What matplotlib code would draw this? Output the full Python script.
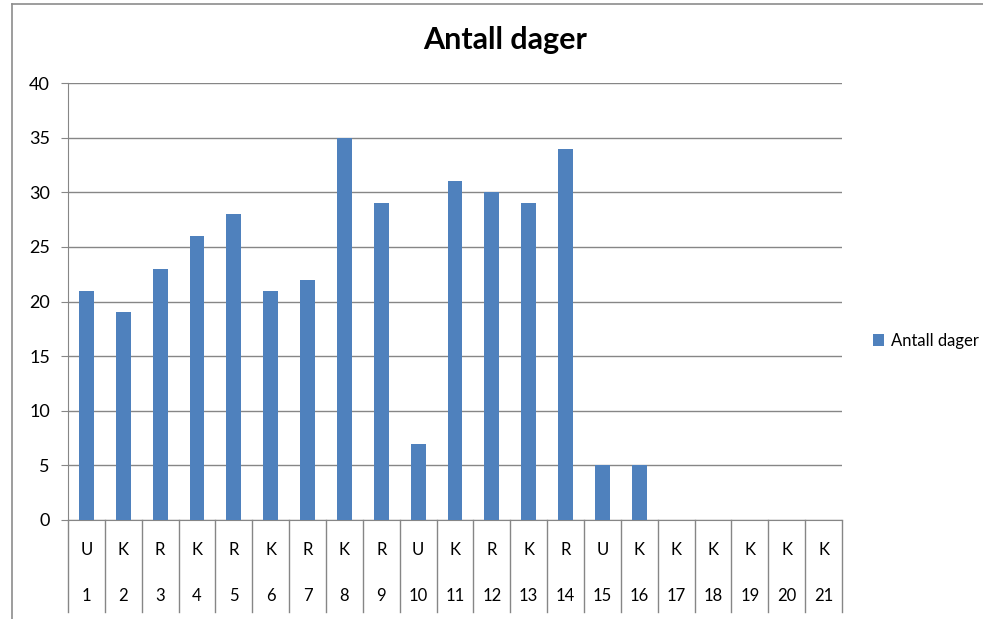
import matplotlib.pyplot as plt
from matplotlib.lines import Line2D
from matplotlib.transforms import blended_transform_factory

plt.rcParams['font.family'] = ['Lato', 'DejaVu Sans']

days = list(range(1, 22))
codes = ['U', 'K', 'R', 'K', 'R', 'K', 'R', 'K', 'R', 'U', 'K',
         'R', 'K', 'R', 'U', 'K', 'K', 'K', 'K', 'K', 'K']
values = [21, 19, 23, 26, 28, 21, 22, 35, 29, 7, 31,
          30, 29, 34, 5, 5, 0, 0, 0, 0, 0]

W, H = 983, 619
fig = plt.figure(figsize=(W / 100, H / 100), dpi=100)
x0, x1, y_top, y_bot = 68, 842, 83, 520
ax = fig.add_axes([x0 / W, 1 - y_bot / H, (x1 - x0) / W, (y_bot - y_top) / H])

grid_c = '#868686'
bar_c = '#4F81BD'

ax.bar(range(len(values)), values, width=0.4, color=bar_c, zorder=3,
       label='Antall dager')
ax.set_xlim(-0.5, len(values) - 0.5)
ax.set_ylim(0, 40)
ax.set_yticks(range(0, 41, 5))
ax.yaxis.grid(True, color=grid_c, linewidth=1)
ax.set_axisbelow(True)
for s in ['top', 'right']:
    ax.spines[s].set_visible(False)
ax.spines['left'].set_color(grid_c)
ax.spines['bottom'].set_color(grid_c)
ax.tick_params(axis='y', length=5, color=grid_c, labelsize=13, pad=8)
ax.set_xticks([])

# two-level category axis
tr = blended_transform_factory(ax.transData, ax.transAxes)
sep_bottom = -(612 - y_bot) / (y_bot - y_top)
for i in range(len(values) + 1):
    ax.plot([i - 0.5, i - 0.5], [0, sep_bottom], color=grid_c, lw=1,
            transform=tr, clip_on=False)
row1 = -(550 - y_bot) / (y_bot - y_top)
row2 = -(596 - y_bot) / (y_bot - y_top)
for i, (c, d) in enumerate(zip(codes, days)):
    ax.text(i, row1, c, transform=tr, ha='center', va='center', fontsize=12)
    ax.text(i, row2, str(d), transform=tr, ha='center', va='center', fontsize=12)

fig.text(505 / W, 1 - 40 / H, 'Antall dager', ha='center', va='center',
         fontsize=22, fontweight='bold')

ax.legend(loc='center left', bbox_to_anchor=((866 - x0) / (x1 - x0), (y_bot - 341) / (y_bot - y_top)),
          frameon=False, fontsize=12, handlelength=0.7, handleheight=0.7,
          handletextpad=0.4, borderaxespad=0)

# outer chart frame
fl, ft = 12 / W, 1 - 4 / H
fig.add_artist(Line2D([fl, fl], [0, ft], color='#8c8c8c', lw=1.2, transform=fig.transFigure))
fig.add_artist(Line2D([fl, 1], [ft, ft], color='#8c8c8c', lw=1.2, transform=fig.transFigure))

fig.savefig('out.png', dpi=100)
